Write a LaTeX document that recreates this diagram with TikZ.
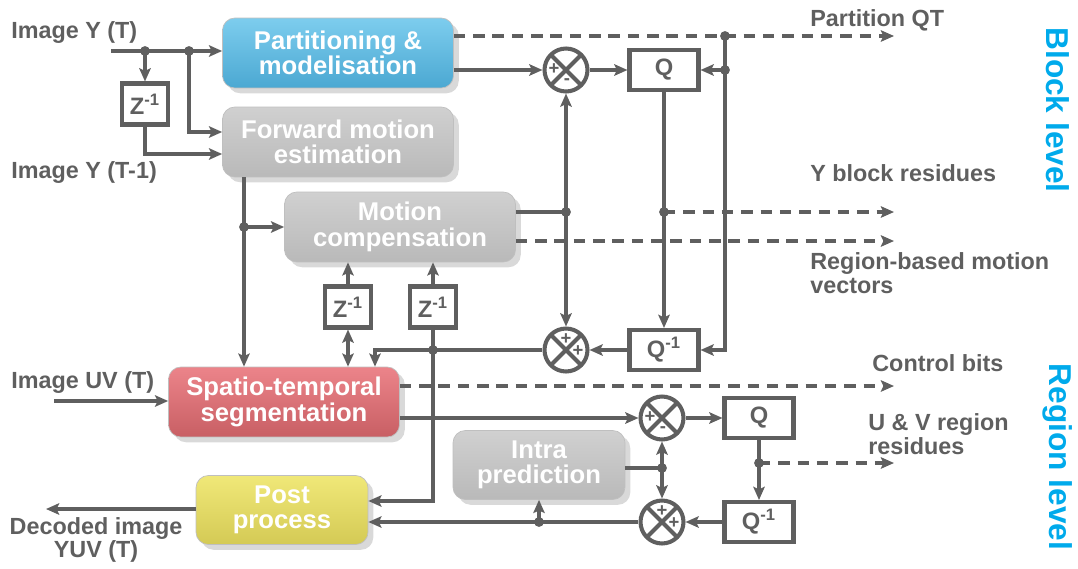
\documentclass[tikz,border=0pt]{standalone}
\usepackage{fontspec}
\setmainfont{Liberation Sans}
\usetikzlibrary{arrows.meta, positioning, calc, shadows}
\definecolor{wiregray}{RGB}{95, 95, 95}
\definecolor{levelblue}{RGB}{0, 170, 235}
\definecolor{parttop}{RGB}{125, 205, 238}
\definecolor{partbot}{RGB}{75, 168, 210}
\definecolor{greytop}{RGB}{208, 208, 208}
\definecolor{greybot}{RGB}{185, 185, 185}
\definecolor{segtop}{RGB}{236, 132, 138}
\definecolor{segbot}{RGB}{200, 95, 100}
\definecolor{posttop}{RGB}{240, 232, 120}
\definecolor{postbot}{RGB}{212, 202, 85}
\newcommand{\sumcross}{\draw[wiregray, line width=2.3pt] (path picture bounding box.north west) -- (path picture bounding box.south east) (path picture bounding box.north east) -- (path picture bounding box.south west);}

\begin{document}
\begin{tikzpicture}[x=0.02cm, y=-0.02cm,
  blk/.style={draw=black!25, rounded corners=7pt, minimum width=4.62cm, minimum height=1.4cm, align=center, text=white, font=\bfseries\fontsize{14.6}{14.6}\selectfont, drop shadow={opacity=0.3, shadow xshift=3pt, shadow yshift=-3pt}},
  sbox/.style={draw=wiregray, line width=2.3pt, fill=white, text=wiregray, font=\bfseries\fontsize{13.5}{13}\selectfont, inner sep=0pt},
  sumnode/.style={circle, draw=wiregray, line width=2.3pt, fill=white, minimum size=0.86cm, inner sep=0pt},
  sgn/.style={text=wiregray, font=\bfseries\fontsize{10.5}{10}\selectfont, inner sep=0pt},
  sumA/.style={sumnode, path picture={\sumcross \path (path picture bounding box.center) ++(-12,-1) node[sgn] (sgnl) {+} (path picture bounding box.center) ++(1,12) node[sgn] (sgnb) {-};}},
  sumB/.style={sumnode, path picture={\sumcross \path (path picture bounding box.center) ++(0,-11) node[sgn] (sgnt) {+} (path picture bounding box.center) ++(12,1) node[sgn] (sgnr) {+};}},
  lbl/.style={text=wiregray, font=\bfseries\fontsize{13.3}{13.3}\selectfont, inner sep=0pt},
  lvl/.style={text=levelblue, font=\bfseries\fontsize{18}{18}\selectfont, rotate=-90, inner sep=0pt},
  wire/.style={draw=wiregray, line width=2.6pt},
  arr/.style={wire, -{Stealth[length=7.5pt, width=6.5pt, inset=1.5pt]}},
  darr/.style={wire, {Stealth[length=7.5pt, width=6.5pt, inset=1.5pt]}-{Stealth[length=7.5pt, width=6.5pt, inset=1.5pt]}},
  dsh/.style={arr, dash pattern=on 6.5pt off 4.5pt}
]
  \useasboundingbox (0,0) rectangle (1078,568);

  % processing blocks
  \node[blk, top color=parttop, bottom color=partbot] (part) at (338,53) {Partitioning \&\\modelisation};
  \node[blk, top color=greytop, bottom color=greybot] (fme) at (338,142) {Forward motion\\estimation};
  \node[blk, top color=greytop, bottom color=greybot] (mc) at (400,227) {Motion\\compensation};
  \node[blk, top color=segtop, bottom color=segbot] (sts) at (284,402) {Spatio-temporal\\segmentation};
  \node[blk, top color=posttop, bottom color=postbot, minimum width=3.44cm, minimum height=1.38cm] (post) at (282,510) {Post\\process};
  \node[blk, top color=greytop, bottom color=greybot, minimum width=3.44cm, minimum height=1.38cm] (intra) at (539,465) {Intra\\prediction};

  % delays, quantisers, adders
  \node[sbox, minimum width=0.92cm, minimum height=0.82cm] (z1) at (145,104) {Z\textsuperscript{-1}};
  \node[sbox, minimum width=0.92cm, minimum height=0.82cm] (z2) at (348,307) {Z\textsuperscript{-1}};
  \node[sbox, minimum width=0.92cm, minimum height=0.82cm] (z3) at (433,307) {Z\textsuperscript{-1}};
  \node[sbox, minimum width=1.38cm, minimum height=0.8cm] (q1) at (664,70) {Q};
  \node[sbox, minimum width=1.38cm, minimum height=0.8cm] (q1inv) at (664,350) {Q\textsuperscript{-1}};
  \node[sbox, minimum width=1.38cm, minimum height=0.8cm] (q2) at (759,418) {Q};
  \node[sbox, minimum width=1.38cm, minimum height=0.8cm] (q2inv) at (759,522) {Q\textsuperscript{-1}};
  \node[sumA] (sum1) at (566,70) {};
  \node[sumB] (sum2) at (566,350) {};
  \node[sumA] (sum3) at (662,418) {};
  \node[sumB] (sum4) at (662,522) {};

  % texts
  \node[lbl, anchor=west] (yT) at (11,33) {Image Y (T)};
  \node[lbl, anchor=west] (yT1) at (11,173) {Image Y (T-1)};
  \node[lbl, anchor=west] (uvT) at (11,383) {Image UV (T)};
  \node[lbl, align=center] (dec) at (96,540) {Decoded image\\YUV (T)};
  \node[lbl, anchor=west] (pqtlbl) at (810,20) {Partition QT};
  \node[lbl, anchor=west] (ybr) at (810,173) {Y block residues};
  \node[lbl, anchor=west, align=left] (rbmv) at (810,273) {Region-based motion\\vectors};
  \node[lbl, anchor=west] (cbits) at (872,363) {Control bits};
  \node[lbl, anchor=west, align=left] (uvr) at (868,434) {U \& V region\\residues};
  \node[lvl] (blocklvl) at (1058,110) {Block level};
  \node[lvl] (regionlvl) at (1058,457) {Region level};

  \coordinate (yTin) at (111,51);
  \coordinate (j1) at (145,51);
  \coordinate (j2) at (189,51);
  \coordinate (pqt) at (894,36);
  \coordinate (jq) at (725,36);
  \coordinate (yres) at (894,212);
  \coordinate (rmv) at (894,241);
  \coordinate (fx) at (244,0);
  \coordinate (fb) at (375,350);
  \coordinate (uvin) at (54,401);
  \coordinate (cb) at (894,386);
  \coordinate (uvres) at (894,463);
  \coordinate (ji) at (662,468);
  \coordinate (out) at (46,509);

  % block level
  \draw[arr] (yTin) -- (yTin -| part.west);
  \draw[arr] (j1) -- (z1.north);
  \draw[arr] (z1.south) |- ($(fme.west)+(0,12)$);
  \draw[arr] (j2) |- ($(fme.west)+(0,-10)$);
  \draw[dsh] (part.east |- pqt) -- (pqt);
  \draw[arr] (part.east |- sum1) -- (sum1);
  \draw[arr] (sum1) -- (q1);
  \draw[arr] (jq) |- (q1inv);
  \draw[arr] (jq |- q1) -- (q1);
  \draw[arr] (q1) -- (q1inv);
  \draw[dsh] (q1 |- yres) -- (yres);
  \draw[wire] (mc.east |- yres) -- (sum1 |- yres);
  \draw[arr] (sum1 |- yres) -- (sum1);
  \draw[arr] (sum1 |- yres) -- (sum2);
  \draw[dsh] (mc.east |- rmv) -- (rmv);
  \draw[arr] (q1inv) -- (sum2);
  \draw[arr] (sum2) -| (fb |- sts.north);
  \draw[arr] (fme.south -| fx) -- (sts.north -| fx);
  \draw[arr] (fx |- mc) -- (mc);
  \draw[arr] (z2) -- (z2 |- mc.south);
  \draw[darr] (z2) -- (z2 |- sts.north);
  \draw[arr] (z3) -- (z3 |- mc.south);
  \draw[arr] (z3) |- ($(post.east)+(0,-9)$);

  % region level
  \draw[arr] (uvin) -- (uvin -| sts.west);
  \draw[dsh] (sts.east |- cb) -- (cb);
  \draw[arr] (sts.east |- sum3) -- (sum3);
  \draw[arr] (sum3) -- (q2);
  \draw[arr] (q2) -- (q2inv);
  \draw[dsh] (q2 |- uvres) -- (uvres);
  \draw[arr] (q2inv) -- (sum4);
  \draw[arr] (sum4) -- (sum4 -| post.east);
  \draw[arr] (intra |- sum4) -- (intra.south);
  \draw[wire] (intra.east |- ji) -- (ji);
  \draw[arr] (ji) -- (sum3);
  \draw[arr] (ji) -- (sum4);
  \draw[arr] (post.west |- out) -- (out);

  % junction dots
  \fill[wiregray] (j1) circle (2.8pt) (j2) circle (2.8pt) (jq) circle (2.8pt) (jq |- q1) circle (2.8pt)
    (q1 |- yres) circle (2.8pt) (sum1 |- yres) circle (2.8pt) (fx |- mc) circle (2.8pt) (z3 |- sum2) circle (2.8pt)
    (q2 |- uvres) circle (2.8pt) (ji) circle (2.8pt) (intra |- sum4) circle (2.8pt);
\end{tikzpicture}
\end{document}
